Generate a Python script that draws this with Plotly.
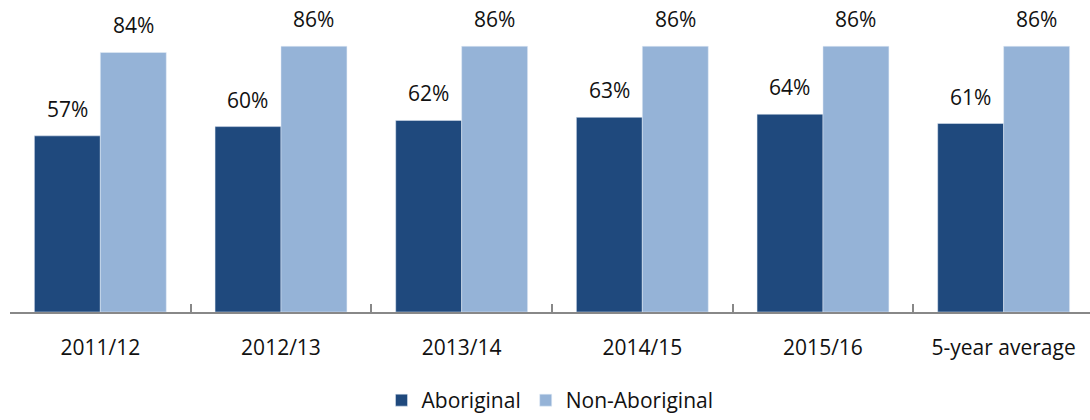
import plotly.graph_objects as go

categories = ["2011/12", "2012/13", "2013/14", "2014/15", "2015/16", "5-year average"]
aboriginal = [57, 60, 62, 63, 64, 61]
non_aboriginal = [84, 86, 86, 86, 86, 86]

DARK = "#1F497D"
LIGHT = "#95B3D7"
FONT = "'Open Sans', Lato, sans-serif"

fig = go.Figure()
fig.add_trace(go.Bar(name="Aboriginal", x=categories, y=aboriginal, marker_color=DARK))
fig.add_trace(go.Bar(name="Non-Aboriginal", x=categories, y=non_aboriginal, marker_color=LIGHT))

# value labels sit well above each bar, as in the original
for cat, a, n in zip(categories, aboriginal, non_aboriginal):
    fig.add_annotation(x=cat, y=a, text=f"{a}%", showarrow=False, xshift=-33,
                       yanchor="bottom", yshift=11, font=dict(size=21, color="#111"))
    fig.add_annotation(x=cat, y=n, text=f"{n}%", showarrow=False, xshift=33,
                       yanchor="bottom", yshift=11, font=dict(size=21, color="#111"))

fig.update_layout(
    width=1090,
    height=420,
    barmode="group",
    bargap=0.27,
    bargroupgap=0,
    paper_bgcolor="white",
    plot_bgcolor="white",
    font=dict(family=FONT, size=21, color="#111"),
    margin=dict(l=10, r=0, t=3, b=108, autoexpand=False),
    legend=dict(orientation="h", x=0.5, xanchor="center", y=-0.22, yanchor="top",
                font=dict(size=21), itemwidth=30, traceorder="normal"),
    # the original is clipped at the right edge, so the last category runs past the frame
    xaxis=dict(range=[-0.5, 5.478], showline=True, linecolor="#888", linewidth=1.5,
               ticks="inside", tickson="boundaries", ticklen=8, tickcolor="#888",
               tickwidth=1.5, tickfont=dict(size=21), automargin=False,
               ticklabelstandoff=16),
    yaxis=dict(range=[0, 100], visible=False, showgrid=False, automargin=False),
)

fig.write_html("out.html", config={"displayModeBar": False},
               post_script="document.body.style.margin='0';")
